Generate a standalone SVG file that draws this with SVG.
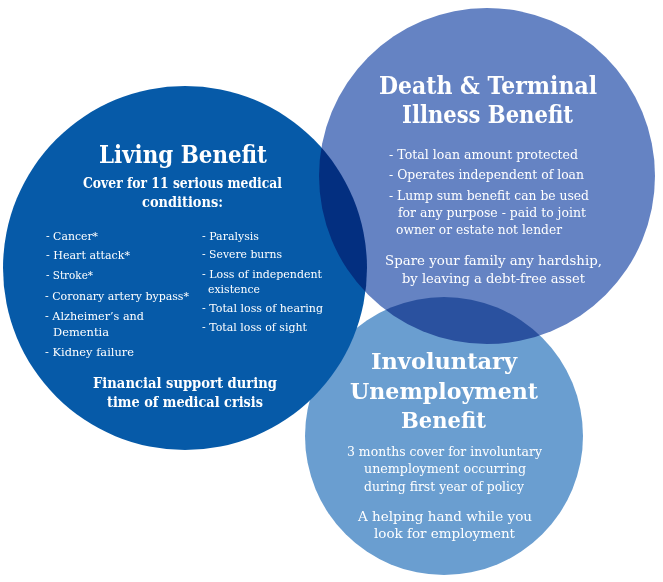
<svg xmlns="http://www.w3.org/2000/svg" width="663" height="582" viewBox="0 0 663 582">
<style>
text{font-family:"DejaVu Serif","Liberation Serif",serif;fill:#ffffff;}
.t{font-weight:bold;font-size:23px;}
.s{font-weight:bold;font-size:14.5px;}
.i{font-size:11.8px;}
.d{font-size:12.5px;}
</style>
<rect x="0" y="0" width="663" height="582" fill="#ffffff"/>
<g id="involuntary-unemployment-benefit">
<circle cx="444" cy="436" r="139" fill="#6a9ed0"/>
<text class="t" x="371" y="369" textLength="146" lengthAdjust="spacingAndGlyphs">Involuntary</text>
<text class="t" x="350" y="399" textLength="188" lengthAdjust="spacingAndGlyphs">Unemployment</text>
<text class="t" x="401" y="428" textLength="85" lengthAdjust="spacingAndGlyphs">Benefit</text>
<text class="d" x="347" y="456" textLength="195" lengthAdjust="spacingAndGlyphs">3 months cover for involuntary</text>
<text class="d" x="364" y="473" textLength="162" lengthAdjust="spacingAndGlyphs">unemployment occurring</text>
<text class="d" x="364" y="491" textLength="160" lengthAdjust="spacingAndGlyphs">during first year of policy</text>
<text class="d" x="358" y="521" style="font-size:13.5px" textLength="174" lengthAdjust="spacingAndGlyphs">A helping hand while you</text>
<text class="d" x="374" y="538" style="font-size:13.5px" textLength="141" lengthAdjust="spacingAndGlyphs">look for employment</text>
</g>
<g id="living-benefit">
<circle cx="185" cy="268" r="182" fill="#065aa8"/>
<text class="t" x="99" y="163" style="font-size:24px" textLength="168" lengthAdjust="spacingAndGlyphs">Living Benefit</text>
<text class="s" x="83" y="188" textLength="199" lengthAdjust="spacingAndGlyphs">Cover for 11 serious medical</text>
<text class="s" x="142" y="207" textLength="81" lengthAdjust="spacingAndGlyphs">conditions:</text>
<text class="i" x="46" y="240" textLength="52" lengthAdjust="spacingAndGlyphs">- Cancer*</text>
<text class="i" x="46" y="259" textLength="84" lengthAdjust="spacingAndGlyphs">- Heart attack*</text>
<text class="i" x="46" y="279" textLength="47" lengthAdjust="spacingAndGlyphs">- Stroke*</text>
<text class="i" x="45" y="300" textLength="144" lengthAdjust="spacingAndGlyphs">- Coronary artery bypass*</text>
<text class="i" x="45" y="320" textLength="99" lengthAdjust="spacingAndGlyphs">- Alzheimer’s and</text>
<text class="i" x="53" y="336" textLength="56" lengthAdjust="spacingAndGlyphs">Dementia</text>
<text class="i" x="45" y="356" textLength="89" lengthAdjust="spacingAndGlyphs">- Kidney failure</text>
<text class="i" x="202" y="240" textLength="57" lengthAdjust="spacingAndGlyphs">- Paralysis</text>
<text class="i" x="202" y="258" textLength="80" lengthAdjust="spacingAndGlyphs">- Severe burns</text>
<text class="i" x="202" y="278" textLength="120" lengthAdjust="spacingAndGlyphs">- Loss of independent</text>
<text class="i" x="208" y="293" textLength="52" lengthAdjust="spacingAndGlyphs">existence</text>
<text class="i" x="202" y="312" textLength="121" lengthAdjust="spacingAndGlyphs">- Total loss of hearing</text>
<text class="i" x="202" y="331" textLength="105" lengthAdjust="spacingAndGlyphs">- Total loss of sight</text>
<text class="s" x="93" y="388" textLength="184" lengthAdjust="spacingAndGlyphs">Financial support during</text>
<text class="s" x="107" y="407" textLength="156" lengthAdjust="spacingAndGlyphs">time of medical crisis</text>
</g>
<g id="death-terminal-illness-benefit">
<circle cx="487" cy="176" r="168" fill="#6583c3" style="mix-blend-mode:multiply"/>
<text class="t" x="379" y="94" style="font-size:24px" textLength="218" lengthAdjust="spacingAndGlyphs">Death &amp; Terminal</text>
<text class="t" x="402" y="123" style="font-size:24px" textLength="171" lengthAdjust="spacingAndGlyphs">Illness Benefit</text>
<text class="d" x="389" y="159" textLength="189" lengthAdjust="spacingAndGlyphs">- Total loan amount protected</text>
<text class="d" x="389" y="179" textLength="195" lengthAdjust="spacingAndGlyphs">- Operates independent of loan</text>
<text class="d" x="389" y="200" textLength="200" lengthAdjust="spacingAndGlyphs">- Lump sum benefit can be used</text>
<text class="d" x="398" y="217" textLength="188" lengthAdjust="spacingAndGlyphs">for any purpose - paid to joint</text>
<text class="d" x="396" y="234" textLength="166" lengthAdjust="spacingAndGlyphs">owner or estate not lender</text>
<text class="d" x="385" y="265" style="font-size:13.5px" textLength="217" lengthAdjust="spacingAndGlyphs">Spare your family any hardship,</text>
<text class="d" x="402" y="283" style="font-size:13.5px" textLength="183" lengthAdjust="spacingAndGlyphs">by leaving a debt-free asset</text>
</g>
</svg>
